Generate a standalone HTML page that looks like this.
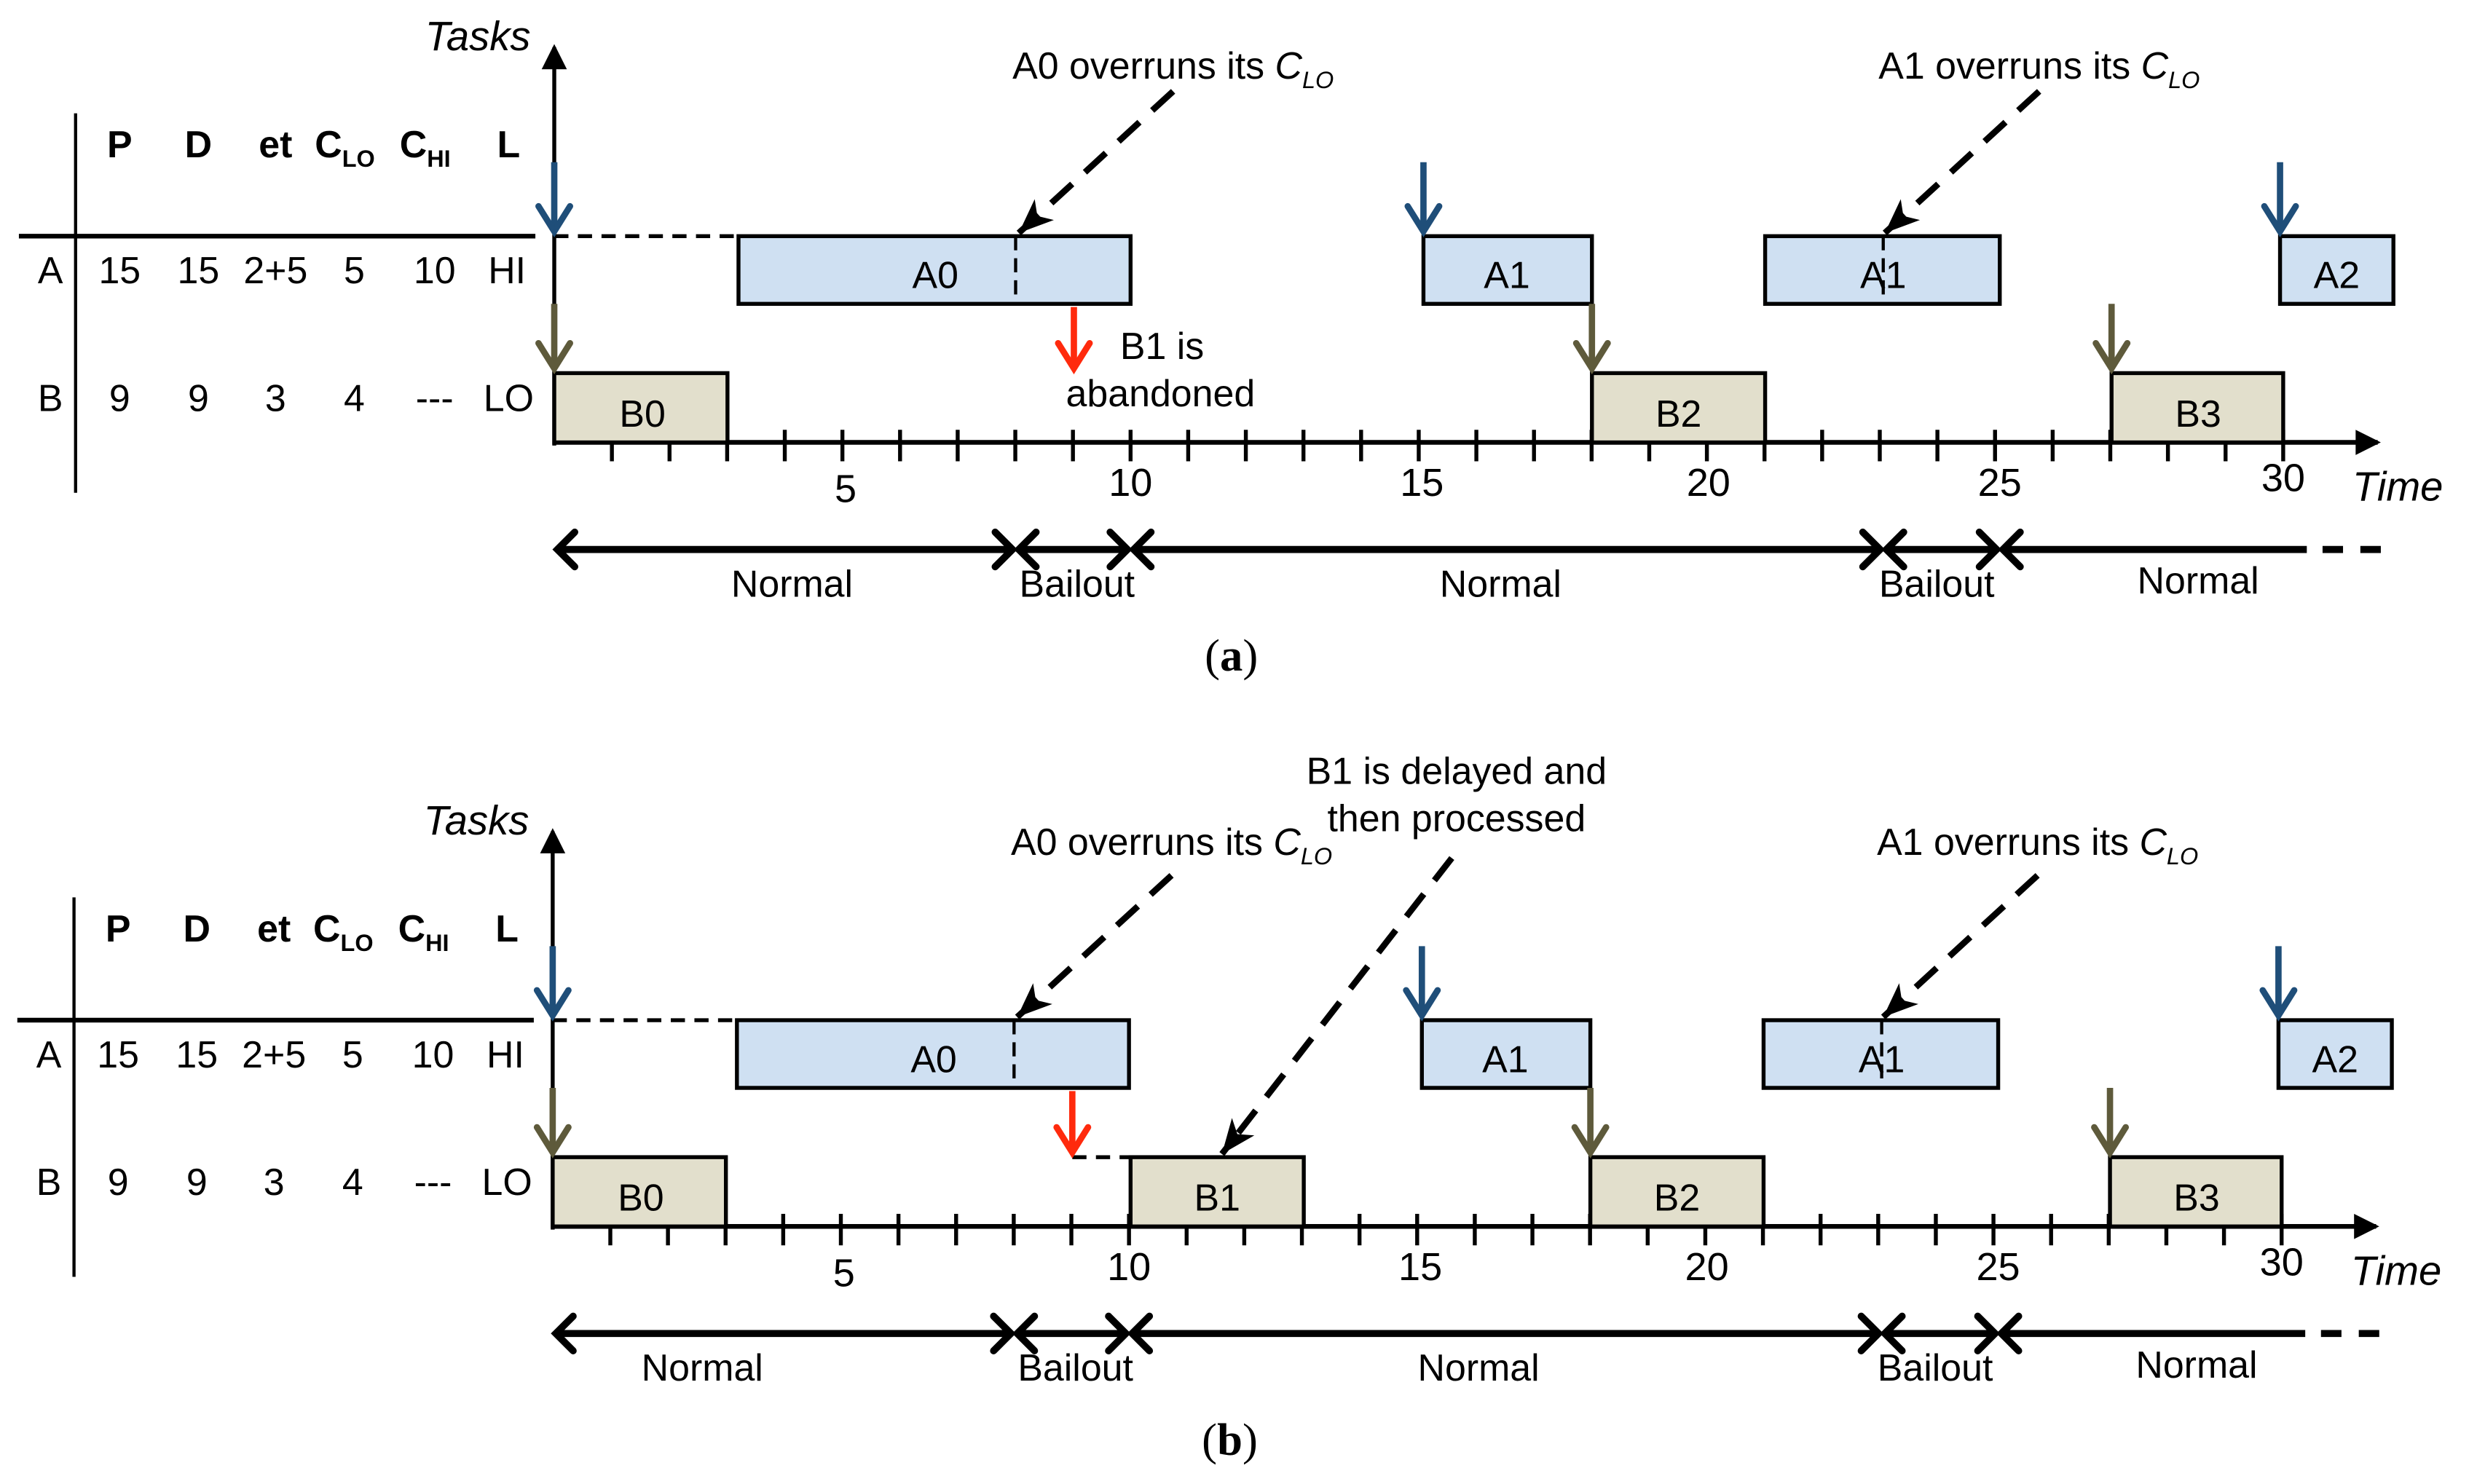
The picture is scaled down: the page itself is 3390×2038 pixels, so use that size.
<!DOCTYPE html>
<html><head><meta charset="utf-8"><style>
html,body{margin:0;padding:0;background:#fff;}
svg{display:block;font-family:"Liberation Sans",sans-serif;font-size:24px;}
text{fill:#000;}
.it{font-style:italic;}
.b{font-weight:bold;}
</style></head><body>
<svg width="3390" height="2038" viewBox="0 0 1568 942.6" preserveAspectRatio="none" xmlns="http://www.w3.org/2000/svg">
<defs>
<marker id="chev" markerUnits="userSpaceOnUse" markerWidth="30" markerHeight="30" viewBox="-20 -15 30 30" refX="0" refY="0" orient="auto-start-reverse" overflow="visible">
<path d="M-11,-11 L0,0 L-11,11" fill="none" stroke="#000" stroke-width="4.5" stroke-linecap="round"/></marker>
<marker id="blue" markerUnits="userSpaceOnUse" markerWidth="30" markerHeight="30" viewBox="-20 -15 30 30" refX="0" refY="0" orient="auto" overflow="visible">
<path d="M-16,-10 L0,0 L-16,10" fill="none" stroke="#1f4e79" stroke-width="4" stroke-linecap="round"/></marker>
<marker id="brown" markerUnits="userSpaceOnUse" markerWidth="30" markerHeight="30" viewBox="-20 -15 30 30" refX="0" refY="0" orient="auto" overflow="visible">
<path d="M-16,-10 L0,0 L-16,10" fill="none" stroke="#5e5a3b" stroke-width="4" stroke-linecap="round"/></marker>
<marker id="red" markerUnits="userSpaceOnUse" markerWidth="30" markerHeight="30" viewBox="-20 -15 30 30" refX="0" refY="0" orient="auto" overflow="visible">
<path d="M-16,-10 L0,0 L-16,10" fill="none" stroke="#ff2a0d" stroke-width="4" stroke-linecap="round"/></marker>
<marker id="tri" markerUnits="userSpaceOnUse" markerWidth="30" markerHeight="30" viewBox="-20 -15 30 30" refX="0" refY="0" orient="auto" overflow="visible">
<path d="M0,0 L-22,-9 L-16,0 L-22,9 Z" fill="#000"/></marker>
<marker id="ax" markerUnits="userSpaceOnUse" markerWidth="30" markerHeight="30" viewBox="-20 -15 30 30" refX="0" refY="0" orient="auto" overflow="visible">
<path d="M2,0 L-14,-8 L-14,8 Z" fill="#000"/></marker>
</defs>

<!-- ================= PANEL A ================= -->
<g>
<line x1="48" y1="72" x2="48" y2="313" stroke="#000" stroke-width="2"/>
<line x1="12" y1="150" x2="340" y2="150" stroke="#000" stroke-width="3"/>
<text x="76" y="100" text-anchor="middle" class="b">P</text>
<text x="126" y="100" text-anchor="middle" class="b">D</text>
<text x="175" y="100" text-anchor="middle" class="b">et</text>
<text x="219" y="100" text-anchor="middle" class="b">C<tspan font-size="15" dy="6">LO</tspan></text>
<text x="270" y="100" text-anchor="middle" class="b">C<tspan font-size="15" dy="6">HI</tspan></text>
<text x="323" y="100" text-anchor="middle" class="b">L</text>
<g text-anchor="middle">
<text x="32" y="180">A</text><text x="76" y="180">15</text><text x="126" y="180">15</text><text x="175" y="180">2+5</text><text x="225" y="180">5</text><text x="276" y="180">10</text><text x="322" y="180">HI</text>
<text x="32" y="261">B</text><text x="76" y="261">9</text><text x="126" y="261">9</text><text x="175" y="261">3</text><text x="225" y="261">4</text><text x="276" y="261">---</text><text x="323" y="261">LO</text>
</g>
<line x1="352" y1="283" x2="352" y2="30" stroke="#000" stroke-width="2.5" marker-end="url(#ax)"/>
<text x="270" y="32" class="it" font-size="26">Tasks</text>
<path d="M388.6 281v12M425.2 281v12M461.8 273v20M498.4 273v20M535 273v20M571.6 273v20M608.2 273v20M644.8 273v20M681.4 273v20M718 273v20M754.6 273v20M791.2 273v20M827.8 273v20M864.4 273v20M901 273v20M937.6 273v20M974.2 273v20M1010.8 273v20M1047.4 273v20M1084 273v20M1120.6 273v20M1157.2 273v20M1193.8 273v20M1230.4 273v20M1267 273v20M1303.6 273v20M1340.2 273v20M1376.8 273v20M1413.4 273v20M1450 273v20" stroke="#000" stroke-width="2.5"/>
<line x1="352" y1="281" x2="1510" y2="281" stroke="#000" stroke-width="3" marker-end="url(#ax)"/>
<g text-anchor="middle" font-size="25">
<text x="537" y="319">5</text><text x="718" y="315">10</text><text x="903" y="315">15</text><text x="1085" y="315">20</text><text x="1270" y="315">25</text><text x="1450" y="312">30</text>
</g>
<text x="1494" y="318" class="it" font-size="26">Time</text>
<line x1="352" y1="150" x2="469" y2="150" stroke="#000" stroke-width="2.5" stroke-dasharray="9,6"/>
<rect x="469" y="150" width="249" height="43" fill="#cfe0f2" stroke="#000" stroke-width="2.5"/>
<line x1="645" y1="150" x2="645" y2="193" stroke="#000" stroke-width="2" stroke-dasharray="9,5"/>
<text x="594" y="183" text-anchor="middle">A0</text>
<rect x="904" y="150" width="107" height="43" fill="#cfe0f2" stroke="#000" stroke-width="2.5"/>
<text x="957" y="183" text-anchor="middle">A1</text>
<rect x="1121" y="150" width="149" height="43" fill="#cfe0f2" stroke="#000" stroke-width="2.5"/>
<line x1="1196" y1="150" x2="1196" y2="193" stroke="#000" stroke-width="2" stroke-dasharray="9,5"/>
<text x="1196" y="183" text-anchor="middle">A1</text>
<rect x="1448" y="150" width="72" height="43" fill="#cfe0f2" stroke="#000" stroke-width="2.5"/>
<text x="1484" y="183" text-anchor="middle">A2</text>
<rect x="352" y="237" width="110" height="44" fill="#e2dfcc" stroke="#000" stroke-width="2.5"/>
<text x="408" y="271" text-anchor="middle">B0</text>
<rect x="1011" y="237" width="110" height="44" fill="#e2dfcc" stroke="#000" stroke-width="2.5"/>
<text x="1066" y="271" text-anchor="middle">B2</text>
<rect x="1341" y="237" width="109" height="44" fill="#e2dfcc" stroke="#000" stroke-width="2.5"/>
<text x="1396" y="271" text-anchor="middle">B3</text>
<line x1="352" y1="103" x2="352" y2="147" stroke="#1f4e79" stroke-width="4" marker-end="url(#blue)"/>
<line x1="904" y1="103" x2="904" y2="147" stroke="#1f4e79" stroke-width="4" marker-end="url(#blue)"/>
<line x1="1448" y1="103" x2="1448" y2="147" stroke="#1f4e79" stroke-width="4" marker-end="url(#blue)"/>
<line x1="352" y1="193" x2="352" y2="234" stroke="#5e5a3b" stroke-width="4" marker-end="url(#brown)"/>
<line x1="1011" y1="193" x2="1011" y2="234" stroke="#5e5a3b" stroke-width="4" marker-end="url(#brown)"/>
<line x1="1341" y1="193" x2="1341" y2="234" stroke="#5e5a3b" stroke-width="4" marker-end="url(#brown)"/>
<line x1="682" y1="195" x2="682" y2="234" stroke="#ff2a0d" stroke-width="4" marker-end="url(#red)"/>
<text x="738" y="228" text-anchor="middle">B1 is</text>
<text x="737" y="258" text-anchor="middle">abandoned</text>
<line x1="745" y1="58" x2="647" y2="148" stroke="#000" stroke-width="4" stroke-dasharray="18,11" marker-end="url(#tri)"/>
<line x1="1295" y1="58" x2="1197" y2="148" stroke="#000" stroke-width="4" stroke-dasharray="18,11" marker-end="url(#tri)"/>
<text x="643" y="50">A0 overruns its <tspan class="it">C</tspan><tspan class="it" font-size="15" dy="6">LO</tspan></text>
<text x="1193" y="50">A1 overruns its <tspan class="it">C</tspan><tspan class="it" font-size="15" dy="6">LO</tspan></text>
<g stroke="#000" stroke-width="4.5">
<line x1="354" y1="349" x2="643" y2="349" marker-start="url(#chev)" marker-end="url(#chev)"/>
<line x1="647" y1="349" x2="716" y2="349" marker-start="url(#chev)" marker-end="url(#chev)"/>
<line x1="720" y1="349" x2="1194" y2="349" marker-start="url(#chev)" marker-end="url(#chev)"/>
<line x1="1198" y1="349" x2="1268" y2="349" marker-start="url(#chev)" marker-end="url(#chev)"/>
<line x1="1272" y1="349" x2="1465" y2="349" marker-start="url(#chev)"/>
<line x1="1475" y1="349" x2="1520" y2="349" stroke-dasharray="13,11"/>
</g>
<text x="503" y="379" text-anchor="middle">Normal</text>
<text x="684" y="379" text-anchor="middle">Bailout</text>
<text x="953" y="379" text-anchor="middle">Normal</text>
<text x="1230" y="379" text-anchor="middle">Bailout</text>
<text x="1396" y="377" text-anchor="middle">Normal</text>
<text x="782" y="426" text-anchor="middle" font-size="29" style="font-family:'Liberation Serif',serif">(<tspan font-weight="bold">a</tspan>)</text>
</g>

<!-- ================= PANEL B ================= -->
<g transform="translate(-1,498)">
<line x1="48" y1="72" x2="48" y2="313" stroke="#000" stroke-width="2"/>
<line x1="12" y1="150" x2="340" y2="150" stroke="#000" stroke-width="3"/>
<text x="76" y="100" text-anchor="middle" class="b">P</text>
<text x="126" y="100" text-anchor="middle" class="b">D</text>
<text x="175" y="100" text-anchor="middle" class="b">et</text>
<text x="219" y="100" text-anchor="middle" class="b">C<tspan font-size="15" dy="6">LO</tspan></text>
<text x="270" y="100" text-anchor="middle" class="b">C<tspan font-size="15" dy="6">HI</tspan></text>
<text x="323" y="100" text-anchor="middle" class="b">L</text>
<g text-anchor="middle">
<text x="32" y="180">A</text><text x="76" y="180">15</text><text x="126" y="180">15</text><text x="175" y="180">2+5</text><text x="225" y="180">5</text><text x="276" y="180">10</text><text x="322" y="180">HI</text>
<text x="32" y="261">B</text><text x="76" y="261">9</text><text x="126" y="261">9</text><text x="175" y="261">3</text><text x="225" y="261">4</text><text x="276" y="261">---</text><text x="323" y="261">LO</text>
</g>
<line x1="352" y1="283" x2="352" y2="30" stroke="#000" stroke-width="2.5" marker-end="url(#ax)"/>
<text x="270" y="32" class="it" font-size="26">Tasks</text>
<path d="M388.6 281v12M425.2 281v12M461.8 273v20M498.4 273v20M535 273v20M571.6 273v20M608.2 273v20M644.8 273v20M681.4 273v20M718 273v20M754.6 273v20M791.2 273v20M827.8 273v20M864.4 273v20M901 273v20M937.6 273v20M974.2 273v20M1010.8 273v20M1047.4 273v20M1084 273v20M1120.6 273v20M1157.2 273v20M1193.8 273v20M1230.4 273v20M1267 273v20M1303.6 273v20M1340.2 273v20M1376.8 273v20M1413.4 273v20M1450 273v20" stroke="#000" stroke-width="2.5"/>
<line x1="352" y1="281" x2="1510" y2="281" stroke="#000" stroke-width="3" marker-end="url(#ax)"/>
<g text-anchor="middle" font-size="25">
<text x="537" y="319">5</text><text x="718" y="315">10</text><text x="903" y="315">15</text><text x="1085" y="315">20</text><text x="1270" y="315">25</text><text x="1450" y="312">30</text>
</g>
<text x="1494" y="318" class="it" font-size="26">Time</text>
<line x1="352" y1="150" x2="469" y2="150" stroke="#000" stroke-width="2.5" stroke-dasharray="9,6"/>
<rect x="469" y="150" width="249" height="43" fill="#cfe0f2" stroke="#000" stroke-width="2.5"/>
<line x1="645" y1="150" x2="645" y2="193" stroke="#000" stroke-width="2" stroke-dasharray="9,5"/>
<text x="594" y="183" text-anchor="middle">A0</text>
<rect x="904" y="150" width="107" height="43" fill="#cfe0f2" stroke="#000" stroke-width="2.5"/>
<text x="957" y="183" text-anchor="middle">A1</text>
<rect x="1121" y="150" width="149" height="43" fill="#cfe0f2" stroke="#000" stroke-width="2.5"/>
<line x1="1196" y1="150" x2="1196" y2="193" stroke="#000" stroke-width="2" stroke-dasharray="9,5"/>
<text x="1196" y="183" text-anchor="middle">A1</text>
<rect x="1448" y="150" width="72" height="43" fill="#cfe0f2" stroke="#000" stroke-width="2.5"/>
<text x="1484" y="183" text-anchor="middle">A2</text>
<rect x="352" y="237" width="110" height="44" fill="#e2dfcc" stroke="#000" stroke-width="2.5"/>
<text x="408" y="271" text-anchor="middle">B0</text>
<line x1="682" y1="237" x2="719" y2="237" stroke="#000" stroke-width="2.5" stroke-dasharray="9,6"/>
<rect x="719" y="237" width="110" height="44" fill="#e2dfcc" stroke="#000" stroke-width="2.5"/>
<text x="774" y="271" text-anchor="middle">B1</text>
<rect x="1011" y="237" width="110" height="44" fill="#e2dfcc" stroke="#000" stroke-width="2.5"/>
<text x="1066" y="271" text-anchor="middle">B2</text>
<rect x="1341" y="237" width="109" height="44" fill="#e2dfcc" stroke="#000" stroke-width="2.5"/>
<text x="1396" y="271" text-anchor="middle">B3</text>
<line x1="352" y1="103" x2="352" y2="147" stroke="#1f4e79" stroke-width="4" marker-end="url(#blue)"/>
<line x1="904" y1="103" x2="904" y2="147" stroke="#1f4e79" stroke-width="4" marker-end="url(#blue)"/>
<line x1="1448" y1="103" x2="1448" y2="147" stroke="#1f4e79" stroke-width="4" marker-end="url(#blue)"/>
<line x1="352" y1="193" x2="352" y2="234" stroke="#5e5a3b" stroke-width="4" marker-end="url(#brown)"/>
<line x1="1011" y1="193" x2="1011" y2="234" stroke="#5e5a3b" stroke-width="4" marker-end="url(#brown)"/>
<line x1="1341" y1="193" x2="1341" y2="234" stroke="#5e5a3b" stroke-width="4" marker-end="url(#brown)"/>
<line x1="682" y1="195" x2="682" y2="234" stroke="#ff2a0d" stroke-width="4" marker-end="url(#red)"/>
<line x1="745" y1="58" x2="647" y2="148" stroke="#000" stroke-width="4" stroke-dasharray="18,11" marker-end="url(#tri)"/>
<line x1="1295" y1="58" x2="1197" y2="148" stroke="#000" stroke-width="4" stroke-dasharray="18,11" marker-end="url(#tri)"/>
<line x1="923" y1="47" x2="777" y2="235" stroke="#000" stroke-width="4" stroke-dasharray="18,11" marker-end="url(#tri)"/>
<text x="643" y="45">A0 overruns its <tspan class="it">C</tspan><tspan class="it" font-size="15" dy="6">LO</tspan></text>
<text x="1193" y="45">A1 overruns its <tspan class="it">C</tspan><tspan class="it" font-size="15" dy="6">LO</tspan></text>
<text x="926" y="0" text-anchor="middle">B1 is delayed and</text>
<text x="926" y="30" text-anchor="middle">then processed</text>
<g stroke="#000" stroke-width="4.5">
<line x1="354" y1="349" x2="643" y2="349" marker-start="url(#chev)" marker-end="url(#chev)"/>
<line x1="647" y1="349" x2="716" y2="349" marker-start="url(#chev)" marker-end="url(#chev)"/>
<line x1="720" y1="349" x2="1194" y2="349" marker-start="url(#chev)" marker-end="url(#chev)"/>
<line x1="1198" y1="349" x2="1268" y2="349" marker-start="url(#chev)" marker-end="url(#chev)"/>
<line x1="1272" y1="349" x2="1465" y2="349" marker-start="url(#chev)"/>
<line x1="1475" y1="349" x2="1520" y2="349" stroke-dasharray="13,11"/>
</g>
<text x="447" y="379" text-anchor="middle">Normal</text>
<text x="684" y="379" text-anchor="middle">Bailout</text>
<text x="940" y="379" text-anchor="middle">Normal</text>
<text x="1230" y="379" text-anchor="middle">Bailout</text>
<text x="1396" y="377" text-anchor="middle">Normal</text>
<text x="782" y="426" text-anchor="middle" font-size="29" style="font-family:'Liberation Serif',serif">(<tspan font-weight="bold">b</tspan>)</text>
</g>
</svg>
</body></html>
